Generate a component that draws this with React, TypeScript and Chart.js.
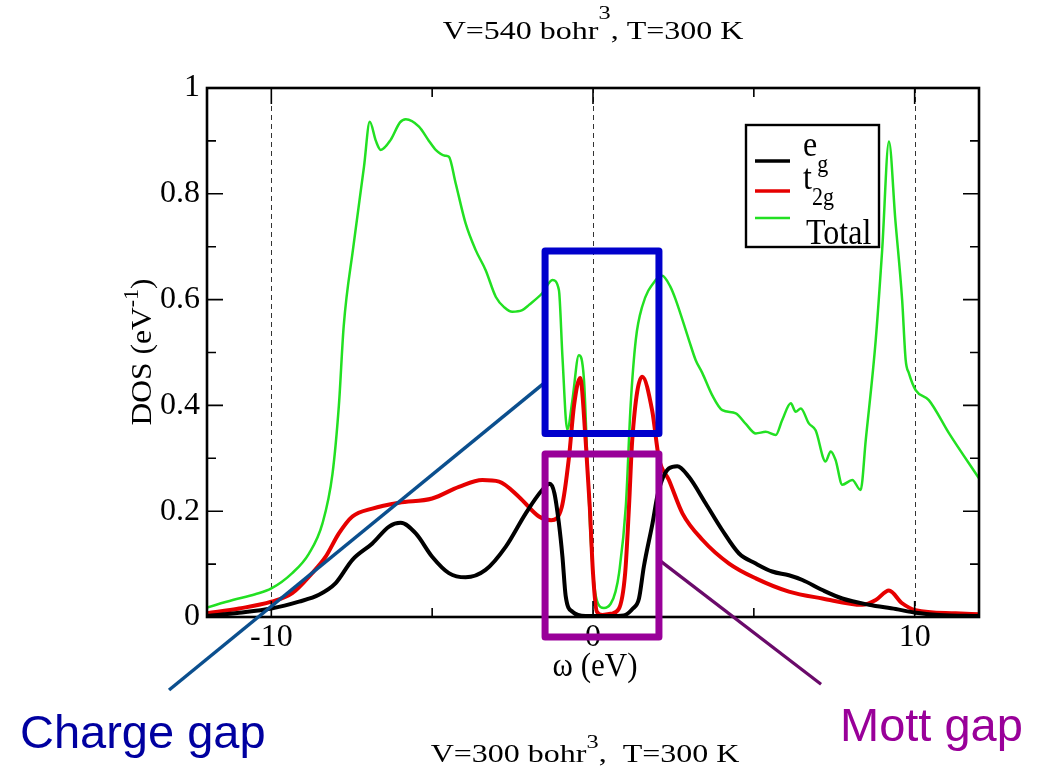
import React, { useEffect, useRef } from "react";
import { Chart, registerables } from "chart.js";

Chart.register(...registerables);

// ---------- data ----------
const egX = [-12.0, -11.0, -10.0, -9.14, -8.52, -8.0, -7.48, -6.86, -6.34, -5.98, -5.51, -5.0, -4.48, -3.96, -3.34, -2.71, -2.09, -1.58, -1.34, -1.2, -1.06, -0.95, -0.85, -0.64, -0.23, 0.5, 0.95, 1.24, 1.43, 1.58, 1.85, 2.02, 2.36, 2.62, 2.98, 3.5, 4.02, 4.54, 5.06, 5.57, 6.09, 6.51, 7.13, 7.75, 8.58, 9.41, 10.03, 10.76, 12.0];
const egY = [0.002, 0.008, 0.016, 0.029, 0.042, 0.064, 0.108, 0.139, 0.171, 0.178, 0.158, 0.114, 0.083, 0.075, 0.089, 0.133, 0.196, 0.24, 0.252, 0.234, 0.177, 0.114, 0.04, 0.01, 0.002, 0.002, 0.003, 0.016, 0.035, 0.095, 0.177, 0.234, 0.281, 0.285, 0.265, 0.215, 0.164, 0.12, 0.101, 0.086, 0.079, 0.07, 0.051, 0.035, 0.023, 0.015, 0.008, 0.004, 0.002];

const t2gX = [-12.0, -11.0, -10.0, -9.35, -8.73, -8.31, -7.9, -7.48, -6.86, -6.03, -5.0, -4.17, -3.44, -2.92, -2.3, -1.68, -1.3, -0.97, -0.75, -0.59, -0.4, -0.23, -0.1, 0.0, 0.12, 0.29, 0.55, 0.8, 1.0, 1.12, 1.22, 1.53, 1.84, 2.05, 2.36, 2.78, 3.4, 4.23, 5.06, 6.09, 7.13, 8.37, 8.79, 9.2, 9.61, 10.03, 11.27, 12.0];
const t2gY = [0.007, 0.016, 0.029, 0.045, 0.083, 0.114, 0.158, 0.19, 0.205, 0.216, 0.224, 0.246, 0.259, 0.256, 0.227, 0.19, 0.183, 0.208, 0.3, 0.4, 0.452, 0.335, 0.208, 0.083, 0.01, 0.004, 0.006, 0.015, 0.083, 0.21, 0.335, 0.454, 0.39, 0.3, 0.259, 0.196, 0.146, 0.101, 0.073, 0.048, 0.035, 0.023, 0.032, 0.05, 0.026, 0.013, 0.007, 0.005];

const totalX = [-12.0, -11.2, -10.5, -10.0, -9.35, -8.83, -8.41, -8.1, -7.9, -7.75, -7.45, -7.12, -6.94, -6.75, -6.6, -6.29, -6.0, -5.82, -5.41, -5.1, -4.89, -4.6, -4.48, -4.27, -3.96, -3.65, -3.34, -3.02, -2.75, -2.51, -2.2, -1.99, -1.58, -1.26, -1.06, -0.95, -0.8, -0.64, -0.44, -0.28, -0.18, -0.07, 0.05, 0.15, 0.34, 0.55, 0.7, 0.81, 1.02, 1.17, 1.33, 1.53, 1.95, 2.15, 2.4, 2.57, 2.98, 3.19, 3.4, 3.7, 4.02, 4.44, 4.75, 5.06, 5.37, 5.68, 5.88, 6.15, 6.3, 6.46, 6.71, 6.92, 7.23, 7.39, 7.54, 7.75, 8.06, 8.32, 8.48, 8.79, 8.99, 9.2, 9.4, 9.61, 9.72, 9.82, 10.03, 10.44, 11.07, 12.0];
const totalY = [0.018, 0.032, 0.043, 0.054, 0.083, 0.12, 0.177, 0.27, 0.4, 0.55, 0.7, 0.851, 0.936, 0.9, 0.883, 0.902, 0.935, 0.941, 0.927, 0.9, 0.883, 0.872, 0.87, 0.82, 0.744, 0.694, 0.656, 0.605, 0.585, 0.577, 0.58, 0.59, 0.612, 0.637, 0.618, 0.492, 0.354, 0.41, 0.495, 0.448, 0.303, 0.146, 0.055, 0.026, 0.017, 0.025, 0.048, 0.083, 0.209, 0.4, 0.524, 0.587, 0.637, 0.645, 0.625, 0.6, 0.524, 0.486, 0.461, 0.42, 0.391, 0.385, 0.365, 0.347, 0.35, 0.344, 0.372, 0.404, 0.388, 0.394, 0.366, 0.353, 0.294, 0.313, 0.297, 0.25, 0.259, 0.24, 0.335, 0.524, 0.694, 0.899, 0.75, 0.6, 0.486, 0.461, 0.429, 0.41, 0.347, 0.262];

const seriesNames = ["e", "t", "Total"];
const seriesSubs = ["g", "2g", ""];

const xTickValues = [-10, 0, 10];
const xTickLabels = ["-10", "0", "10"];
const xMinorTicks = [-5, 5];
const yTickValues = [0, 0.2, 0.4, 0.6, 0.8, 1];
const yTickLabels = ["0", "0.2", "0.4", "0.6", "0.8", "1"];
const yMinorTicks = [0.1, 0.3, 0.5, 0.7, 0.9];
const dashedX = [-10, 0, 10];

// annotation boxes and pointer lines, in data units
const chargeBox = [-1.49, 0.347, 2.05, 0.692];
const mottBox = [-1.49, -0.038, 2.05, 0.308];
const chargeLine = [-1.52, 0.442, -13.18, -0.138];
const mottLine = [2.05, 0.108, 7.09, -0.127];

const SERIF = '"Liberation Serif", "Times New Roman", serif';
const SANS = '"Liberation Sans", Arial, sans-serif';

type Seg = { t: string; size: number; dy?: number };

function drawRich(
  ctx: CanvasRenderingContext2D,
  segs: Seg[],
  x: number,
  y: number,
  align: "left" | "center",
  sx = 1,
  sy = 1,
  color = "#000",
  family = SERIF
) {
  ctx.save();
  ctx.translate(x, y);
  ctx.scale(sx, sy);
  ctx.textAlign = "left";
  ctx.textBaseline = "alphabetic";
  ctx.fillStyle = color;
  const widths = segs.map((s) => {
    ctx.font = `${s.size}px ${family}`;
    return ctx.measureText(s.t).width;
  });
  const total = widths.reduce((a, b) => a + b, 0);
  let cx = align === "center" ? -total / 2 : 0;
  segs.forEach((s, i) => {
    ctx.font = `${s.size}px ${family}`;
    ctx.fillText(s.t, cx, (s.dy || 0) / sy);
    cx += widths[i];
  });
  ctx.restore();
}

const decorPlugin = {
  id: "decor",
  beforeDatasetsDraw(chart: any) {
    const { ctx, chartArea, scales } = chart;
    const x = scales.x;
    ctx.save();
    ctx.strokeStyle = "#333";
    ctx.lineWidth = 1;
    ctx.setLineDash([5, 4]);
    dashedX.forEach((v) => {
      const px = Math.round(x.getPixelForValue(v)) + 0.5;
      ctx.beginPath();
      ctx.moveTo(px, chartArea.top);
      ctx.lineTo(px, chartArea.bottom);
      ctx.stroke();
    });
    ctx.restore();
  },
  afterDatasetsDraw(chart: any) {
    const { ctx, chartArea, scales } = chart;
    const { left, right, top, bottom } = chartArea;
    const x = scales.x;
    const y = scales.y;
    ctx.save();
    ctx.strokeStyle = "#000";
    ctx.lineWidth = 1.6;
    const major = 16;
    const minor = 9;
    yTickValues.forEach((v) => {
      const py = y.getPixelForValue(v);
      ctx.beginPath();
      ctx.moveTo(left, py);
      ctx.lineTo(left + major, py);
      ctx.moveTo(right, py);
      ctx.lineTo(right - major, py);
      ctx.stroke();
    });
    yMinorTicks.forEach((v) => {
      const py = y.getPixelForValue(v);
      ctx.beginPath();
      ctx.moveTo(left, py);
      ctx.lineTo(left + minor, py);
      ctx.moveTo(right, py);
      ctx.lineTo(right - minor, py);
      ctx.stroke();
    });
    xTickValues.forEach((v) => {
      const px = x.getPixelForValue(v);
      ctx.beginPath();
      ctx.moveTo(px, bottom);
      ctx.lineTo(px, bottom - major);
      ctx.moveTo(px, top);
      ctx.lineTo(px, top + major);
      ctx.stroke();
    });
    xMinorTicks.forEach((v) => {
      const px = x.getPixelForValue(v);
      ctx.beginPath();
      ctx.moveTo(px, bottom);
      ctx.lineTo(px, bottom - minor);
      ctx.moveTo(px, top);
      ctx.lineTo(px, top + minor);
      ctx.stroke();
    });
    ctx.lineWidth = 2.6;
    ctx.strokeRect(left, top, right - left, bottom - top);
    ctx.restore();
  },
  afterDraw(chart: any) {
    const { ctx, scales } = chart;
    const x = scales.x;
    const y = scales.y;

    // titles
    drawRich(ctx, [
      { t: "V=540 bohr", size: 25 },
      { t: "3", size: 19, dy: -20 },
      { t: ", T=300 K", size: 25 },
    ], 593, 39, "center", 1.28, 1);
    drawRich(ctx, [
      { t: "V=300 bohr", size: 25 },
      { t: "3", size: 19, dy: -14 },
      { t: ",  T=300 K", size: 25 },
    ], 585, 762, "center", 1.28, 1);

    // axis titles
    drawRich(ctx, [{ t: "ω (eV)", size: 31 }], 595, 676, "center", 1, 1.08);
    ctx.save();
    ctx.translate(151, 352);
    ctx.rotate(-Math.PI / 2);
    drawRich(ctx, [
      { t: "DOS (eV", size: 30 },
      { t: "-1", size: 21, dy: -13 },
      { t: ")", size: 30 },
    ], 0, 0, "center", 1.05, 1);
    ctx.restore();

    // legend
    ctx.save();
    ctx.fillStyle = "#fff";
    ctx.strokeStyle = "#000";
    ctx.lineWidth = 2.4;
    ctx.fillRect(746, 125, 133, 122);
    ctx.strokeRect(746, 125, 133, 122);
    const ds = chart.data.datasets;
    const rowY = [161, 191, 218];
    const textY = [156, 189, 244];
    ds.forEach((d: any, i: number) => {
      ctx.strokeStyle = d.borderColor;
      ctx.lineWidth = i === 2 ? 2.5 : 3.6;
      ctx.beginPath();
      ctx.moveTo(755, rowY[i]);
      ctx.lineTo(790, rowY[i]);
      ctx.stroke();
      const segs: Seg[] = [{ t: seriesNames[i], size: 32 }];
      if (seriesSubs[i]) segs.push({ t: seriesSubs[i], size: 22, dy: 16 });
      drawRich(ctx, segs, i === 2 ? 806 : 803, textY[i], "left", 1, 1.1);
    });
    ctx.restore();

    // annotation boxes
    const box = (b: number[], color: string) => {
      const x1 = x.getPixelForValue(b[0]);
      const x2 = x.getPixelForValue(b[2]);
      const y1 = y.getPixelForValue(b[3]);
      const y2 = y.getPixelForValue(b[1]);
      ctx.save();
      ctx.strokeStyle = color;
      ctx.lineWidth = 7;
      ctx.lineJoin = "round";
      ctx.strokeRect(x1, y1, x2 - x1, y2 - y1);
      ctx.restore();
    };
    const line = (l: number[], color: string, w: number) => {
      ctx.save();
      ctx.strokeStyle = color;
      ctx.lineWidth = w;
      ctx.beginPath();
      ctx.moveTo(x.getPixelForValue(l[0]), y.getPixelForValue(l[1]));
      ctx.lineTo(x.getPixelForValue(l[2]), y.getPixelForValue(l[3]));
      ctx.stroke();
      ctx.restore();
    };
    line(chargeLine, "#0b4f8e", 3.5);
    line(mottLine, "#6a0a6a", 3.2);
    box(chargeBox, "#0000cc");
    box(mottBox, "#990099");

    ctx.save();
    ctx.font = `47px ${SANS}`;
    ctx.textBaseline = "alphabetic";
    ctx.textAlign = "left";
    ctx.fillStyle = "#0000a0";
    ctx.fillText("Charge gap", 20, 748);
    ctx.fillStyle = "#990099";
    ctx.fillText("Mott gap", 840, 741);
    ctx.restore();
  },
};

const toPts = (xs: number[], ys: number[]) => xs.map((v, i) => ({ x: v, y: ys[i] }));

export default function App() {
  const ref = useRef<HTMLCanvasElement | null>(null);
  useEffect(() => {
    if (!ref.current) return;
    const tickFont = { family: SERIF, size: 32 };
    const chart = new Chart(ref.current, {
      type: "line",
      data: {
        datasets: [
          { label: "eg", data: toPts(egX, egY), borderColor: "#000000", borderWidth: 4, pointRadius: 0, cubicInterpolationMode: "monotone", fill: false },
          { label: "t2g", data: toPts(t2gX, t2gY), borderColor: "#e60000", borderWidth: 4, pointRadius: 0, cubicInterpolationMode: "monotone", fill: false },
          { label: "Total", data: toPts(totalX, totalY), borderColor: "#22e022", borderWidth: 2.5, pointRadius: 0, cubicInterpolationMode: "monotone", fill: false },
        ],
      },
      options: {
        animation: false,
        responsive: false,
        devicePixelRatio: 1,
        layout: { padding: { left: 0, top: 88, right: 64, bottom: 0 } },
        plugins: { legend: { display: false }, title: { display: false }, tooltip: { enabled: false } },
        scales: {
          x: {
            type: "linear",
            min: -12,
            max: 12,
            grid: { display: false, drawTicks: false },
            border: { display: false },
            ticks: {
              stepSize: 5,
              includeBounds: false,
              autoSkip: false,
              maxRotation: 0,
              padding: 1,
              color: "#000",
              font: tickFont,
              callback: (v: any) => {
                const i = xTickValues.findIndex((t) => Math.abs(t - Number(v)) < 1e-6);
                return i >= 0 ? xTickLabels[i] : "";
              },
            },
            afterFit: (s: any) => {
              s.height = 155;
            },
          },
          y: {
            type: "linear",
            min: 0,
            max: 1,
            grid: { display: false, drawTicks: false },
            border: { display: false },
            ticks: {
              stepSize: 0.2,
              padding: 7,
              color: "#000",
              font: tickFont,
              callback: (v: any) => {
                const i = yTickValues.findIndex((t) => Math.abs(t - Number(v)) < 1e-6);
                return i >= 0 ? yTickLabels[i] : "";
              },
            },
            afterFit: (s: any) => {
              s.width = 207;
            },
          },
        },
      },
      plugins: [decorPlugin],
    } as any);
    return () => chart.destroy();
  }, []);
  return (
    <div style={{ position: "fixed", left: 0, top: 0, width: 1043, height: 772, background: "#fff" }}>
      <canvas ref={ref} width={1043} height={772} style={{ display: "block" }} />
    </div>
  );
}
